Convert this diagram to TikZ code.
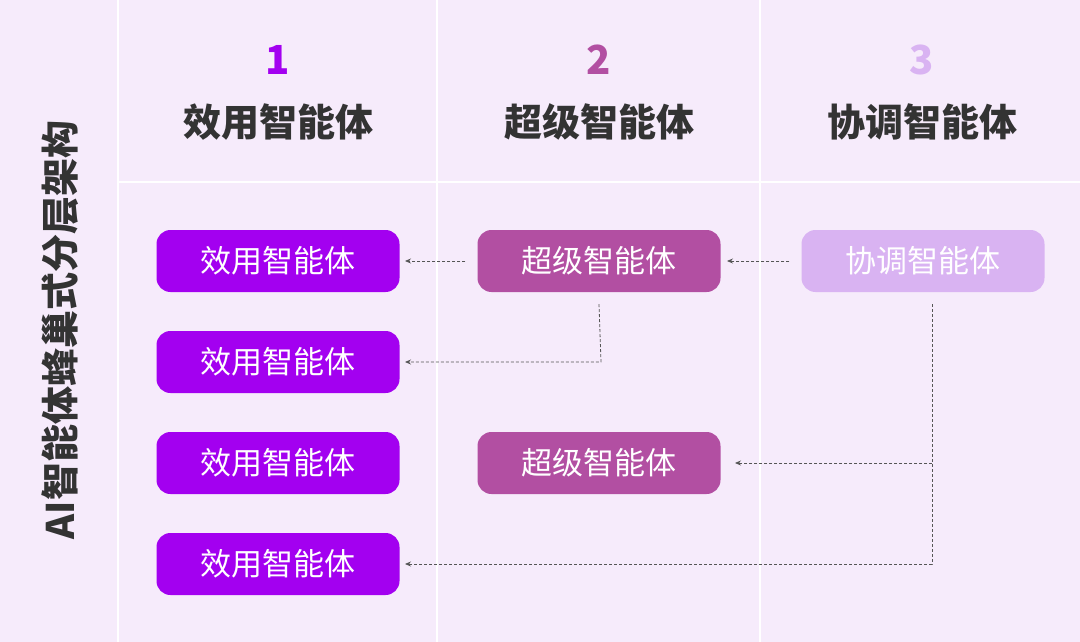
\documentclass[tikz,border=0pt]{standalone}
\usepackage{fontspec}
\setmainfont{Noto Sans CJK SC}
\usetikzlibrary{arrows.meta}
\definecolor{bg}{HTML}{F6EBFB}
\definecolor{cA}{HTML}{A300F0}
\definecolor{cB}{HTML}{B24FA2}
\definecolor{cC}{HTML}{D9B3F2}
\definecolor{txt}{HTML}{333333}
\definecolor{ln}{HTML}{555555}
\tikzset{
 box/.style={rounded corners=14pt,minimum width=243pt,minimum height=62pt,text=white,font=\fontsize{31}{31}\selectfont,inner sep=0pt},
 head/.style={text=txt,font=\bfseries\fontsize{38}{38}\selectfont},
 num/.style={font=\bfseries\fontsize{40}{40}\selectfont},
 conn/.style={ln,densely dashed,line width=0.8pt,-{Stealth[length=6pt,width=5pt]}},
 grid/.style={white,line width=2pt}
}
\begin{document}
\begin{tikzpicture}[x=1pt,y=-1pt]
\fill[bg] (0,0) rectangle (1080,642);
\useasboundingbox (0,0) rectangle (1080,642);
\draw[grid] (118,0) -- (118,642);
\draw[grid] (437,0) -- (437,642);
\draw[grid] (760,0) -- (760,642);
\draw[grid] (118,182) -- (1080,182);
\node[rotate=90,head] (side) at (60,330) {AI智能体蜂巢式分层架构};
\node[num,text=cA] (n1) at (278,60) {1};
\node[num,text=cB] (n2) at (599,60) {2};
\node[num,text=cC] (n3) at (922,60) {3};
\node[head] (h1) at (278,122) {效用智能体};
\node[head] (h2) at (599,122) {超级智能体};
\node[head] (h3) at (922,122) {协调智能体};
\node[box,fill=cA] (u1) at (278,261) {效用智能体};
\node[box,fill=cA] (u2) at (278,362) {效用智能体};
\node[box,fill=cA] (u3) at (278,463) {效用智能体};
\node[box,fill=cA] (u4) at (278,564) {效用智能体};
\node[box,fill=cB] (s1) at (599,261) {超级智能体};
\node[box,fill=cB] (s2) at (599,463) {超级智能体};
\node[box,fill=cC] (c1) at (923,261) {协调智能体};
\coordinate (a1) at (405,261);
\coordinate (a2) at (727,261);
\coordinate (a3) at (405,362);
\coordinate (a4) at (735,463);
\coordinate (a5) at (405,564);
\draw[conn] ([xshift=-12pt]s1.west) -- (a1);
\draw[conn] ([xshift=-12pt]c1.west) -- (a2);
\draw[conn] (s1.south) ++(0,12) -- (601,362) -- (a3);
\draw[conn] (932,304) -- (932,564) -- (a5);
\draw[conn] (932,463) -- (a4);
\end{tikzpicture}
\end{document}
